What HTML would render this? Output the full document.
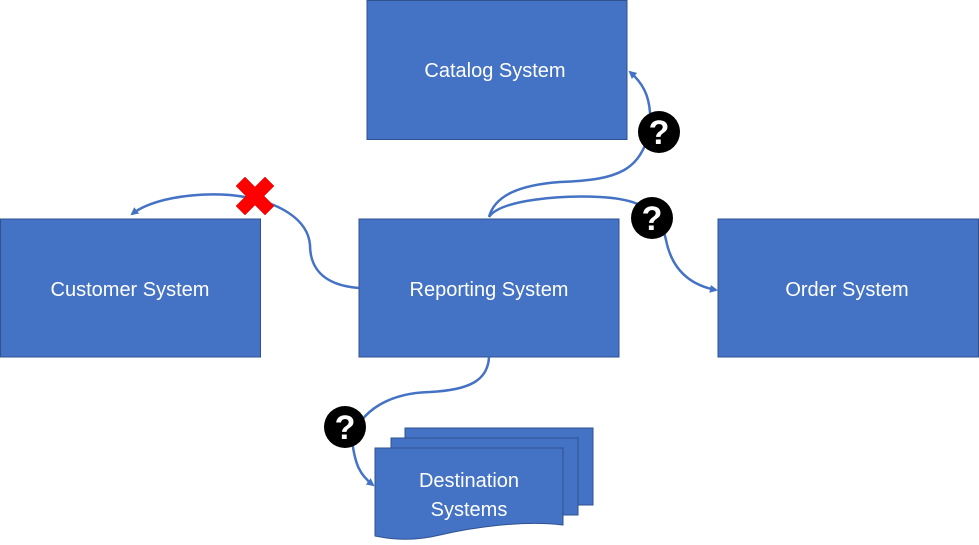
<!DOCTYPE html>
<html><head><style>body{margin:0;background:#fff}svg{display:block}text{font-family:"Liberation Sans",sans-serif;fill:#fff;font-size:20px}text.q{font-size:34px;font-weight:bold}</style></head><body>
<svg width="979" height="545" viewBox="0 0 979 545" xmlns="http://www.w3.org/2000/svg">
<defs><marker id="a" markerWidth="8" markerHeight="8" refX="6" refY="4" orient="auto" markerUnits="userSpaceOnUse"><path d="M0,0 L8,4 L0,8 Z" fill="#4472c4"/></marker></defs>
<g fill="#4472c4" stroke="#2f528f" stroke-width="1">
<rect x="367" y="0.5" width="260" height="139"/>
<rect x="0.5" y="219" width="260" height="138"/>
<rect x="359" y="219" width="260" height="138"/>
<rect x="718" y="219" width="260.5" height="138"/>
<rect x="405" y="428" width="188" height="77"/>
<rect x="391" y="438" width="187" height="77"/>
<path d="M375,448 H563 V525 C520,520 470,528 440,535 C415,541 395,540 375,536 Z"/>
</g>
<g fill="none" stroke="#4472c4" stroke-width="2.5">
<path d="M359,288 C320,285 310,265 310,245 C308,220 280,200 230,195 C190,192 150,200 132,214" marker-end="url(#a)"/>
<path d="M489,217 C495,195 520,185 560,182 C620,180 640,170 650,130 C652,100 645,85 630,72" marker-end="url(#a)"/>
<path d="M489,217 C500,200 560,195 600,197 C640,199 660,210 666,240 C672,270 690,285 716,290" marker-end="url(#a)"/>
<path d="M489,357 C488,380 470,390 430,392 C390,393 360,410 352,440 C355,465 360,475 373,485" marker-end="url(#a)"/>
</g>
<text x="495" y="77" text-anchor="middle">Catalog  System</text>
<text x="130" y="296" text-anchor="middle">Customer System</text>
<text x="489" y="296" text-anchor="middle">Reporting System</text>
<text x="847" y="296" text-anchor="middle">Order System</text>
<text x="469" y="487" text-anchor="middle">Destination</text>
<text x="469" y="516" text-anchor="middle">Systems</text>
<g>
<circle cx="659" cy="132" r="21" fill="#000"/><text class="q" x="659" y="144" text-anchor="middle">?</text>
<circle cx="652" cy="218" r="21" fill="#000"/><text class="q" x="652" y="230" text-anchor="middle">?</text>
<circle cx="345" cy="427" r="21" fill="#000"/><text class="q" x="345" y="439" text-anchor="middle">?</text>
</g>
<path d="M245,177 L255,187 L265,177 L274,186 L264,196 L274,206 L265,215 L255,205 L245,215 L236,206 L246,196 L236,186 Z" fill="#ff0000" stroke="#c00" stroke-width="0.5"/>
</svg>
</body></html>
